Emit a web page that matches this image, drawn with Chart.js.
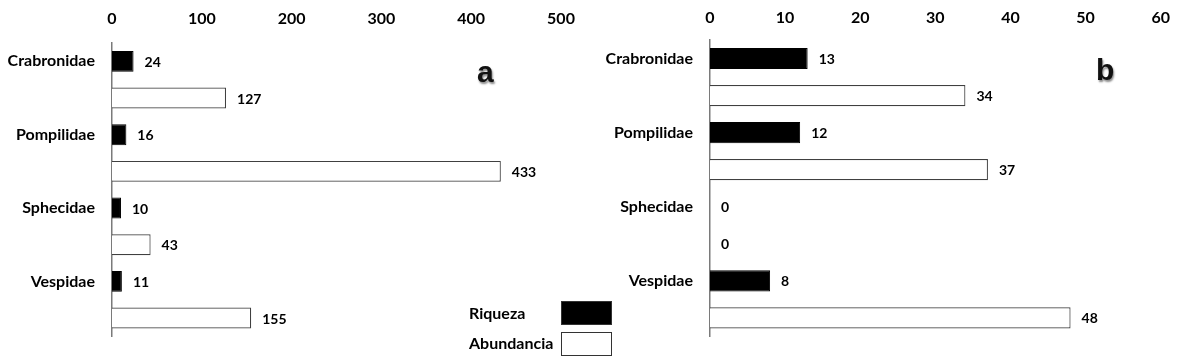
<!DOCTYPE html>
<html>
<head>
<meta charset="utf-8">
<script src="https://cdn.jsdelivr.net/npm/chart.js@4.4.1/dist/chart.umd.min.js"></script>
<style>
  html, body { margin: 0; padding: 0; background: #fff; }
  body { width: 1183px; height: 363px; position: relative; overflow: hidden; font-family: Lato, "Open Sans", sans-serif; }
  .wrap { position: absolute; top: 0; height: 363px; }
  #wa { left: 0; width: 590px; }
  #wb { left: 590px; width: 593px; }
  .panel { position: absolute; font-family: "Liberation Sans", Arial, sans-serif; font-weight: bold; font-size: 30px; color: #111; text-shadow: 1px 2px 2px #888; line-height: 1; }
  .lgtext { position: absolute; font-weight: bold; font-size: 16px; color: #000; line-height: 1; }
  .lgbox { position: absolute; box-sizing: border-box; border: 1.5px solid #333; }
</style>
</head>
<body>
<div class="wrap" id="wa"><canvas id="ca" width="590" height="363"></canvas></div>
<div class="wrap" id="wb"><canvas id="cb" width="593" height="363"></canvas></div>
<div class="panel" style="left:477px; top:57px;">a</div>
<div class="panel" style="left:1096px; top:55px;">b</div>
<div class="lgtext" style="left:469px; top:305px;">Riqueza</div>
<div class="lgbox" style="left:561px; top:301px; width:51px; height:24px; background:#000;"></div>
<div class="lgtext" style="left:469px; top:335px;">Abundancia</div>
<div class="lgbox" style="left:561px; top:332px; width:51px; height:24px; background:#fff;"></div>
<script>
// ---- data ----
const families = ['Crabronidae', 'Pompilidae', 'Sphecidae', 'Vespidae'];
const seriesNames = ['Riqueza', 'Abundancia'];
const riquezaA = [24, 16, 10, 11];
const abundanciaA = [127, 433, 43, 155];
const riquezaB = [13, 12, 0, 8];
const abundanciaB = [34, 37, 0, 48];
const ticksA = [0, 100, 200, 300, 400, 500];
const ticksB = [0, 10, 20, 30, 40, 50, 60];

// each family takes two rows: Riqueza row (labelled) and Abundancia row
function rowLabels() {
  const out = [];
  families.forEach(f => { out.push(f); out.push(''); });
  return out;
}
function rows(values, slot) {
  const out = [];
  values.forEach(v => {
    if (slot === 0) { out.push(v); out.push(null); }
    else { out.push(null); out.push(v); }
  });
  return out;
}

const valueLabels = {
  id: 'valueLabels',
  afterDatasetsDraw(chart) {
    const ctx = chart.ctx;
    ctx.save();
    ctx.font = 'bold 14px Lato, "Open Sans", sans-serif';
    ctx.fillStyle = '#000';
    ctx.textBaseline = 'middle';
    ctx.textAlign = 'left';
    chart.data.datasets.forEach((ds, i) => {
      const meta = chart.getDatasetMeta(i);
      meta.data.forEach((bar, j) => {
        const v = ds.data[j];
        if (v === null || v === undefined) return;
        ctx.fillText(String(v), bar.x + 11, bar.y + 1);
      });
    });
    ctx.restore();
  }
};

function makeChart(id, riq, abu, tickVals, opts) {
  const maxV = tickVals[tickVals.length - 1];
  const step = tickVals[1] - tickVals[0];
  return new Chart(document.getElementById(id), {
    type: 'bar',
    data: {
      labels: rowLabels(),
      datasets: [
        { label: seriesNames[0], data: rows(riq, 0), backgroundColor: '#000', borderColor: '#000', borderWidth: 1, grouped: false, barPercentage: 0.57, categoryPercentage: 1 },
        { label: seriesNames[1], data: rows(abu, 1), backgroundColor: '#fff', borderColor: '#404040', borderWidth: 1.2, grouped: false, barPercentage: 0.57, categoryPercentage: 1 }
      ]
    },
    options: {
      indexAxis: 'y',
      responsive: false,
      animation: false,
      devicePixelRatio: 1,
      layout: { padding: { left: 0, top: 0, right: opts.padRight, bottom: opts.padBottom } },
      plugins: { legend: { display: false }, tooltip: { enabled: false } },
      scales: {
        x: {
          position: 'top',
          min: 0, max: maxV,
          afterBuildTicks: s => { s.ticks = tickVals.map(v => ({ value: v })); },
          ticks: { stepSize: step, padding: opts.tickPad, color: '#000', font: { family: 'Lato, "Open Sans", sans-serif', size: 16, weight: 'bold' } },
          grid: { display: false, drawTicks: false },
          border: { display: false },
          afterFit: s => { s.height = opts.top; }
        },
        y: {
          ticks: { autoSkip: false, padding: 17, color: '#000', font: { family: 'Lato, "Open Sans", sans-serif', size: 16, weight: 'bold' } },
          grid: { display: false, drawTicks: false },
          border: { display: true, color: '#7a7a7a', width: 1.5 },
          afterFit: s => { s.width = opts.left; }
        }
      }
    },
    plugins: [valueLabels]
  });
}

makeChart('ca', riquezaA, abundanciaA, ticksA, { left: 112, top: 43, padRight: 29, padBottom: 25, tickPad: 15 });
makeChart('cb', riquezaB, abundanciaB, ticksB, { left: 120, top: 40, padRight: 17, padBottom: 26, tickPad: 13 });
</script>
</body>
</html>
